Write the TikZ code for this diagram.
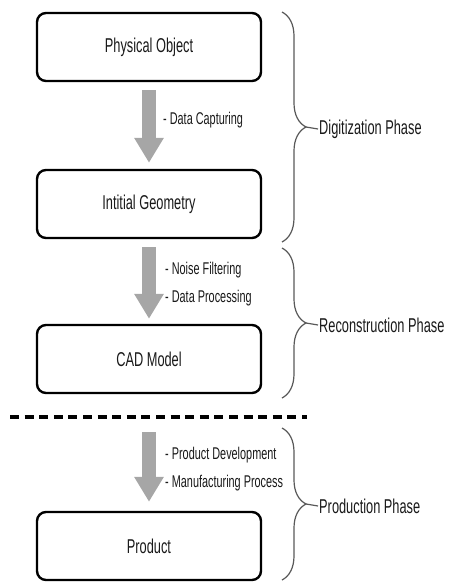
\documentclass[tikz,border=0pt]{standalone}
\usepackage{fontspec}
\setmainfont{Liberation Sans}[FakeStretch=0.64]
\usetikzlibrary{arrows.meta,decorations.pathreplacing}
\begin{document}
\begin{tikzpicture}[x=1pt,y=-1pt,
		phasebox/.style={draw,line width=2.4pt,rounded corners=9pt,minimum width=224pt,minimum height=68pt,font=\fontsize{20}{23}\selectfont,text=black!90},
		flow/.style={draw=black!35,line width=14pt,-{Triangle[width=28pt,length=25pt]}},
		steptext/.style={anchor=west,align=left,inner sep=0pt,font=\fontsize{17}{27.5}\selectfont,text=black!90},
		phasebrace/.style={draw=black!65,line width=1.2pt,decorate,decoration={brace,amplitude=24pt}},
		phaselabel/.style={anchor=west,inner sep=1pt,font=\fontsize{20}{23}\selectfont,text=black!90}]
	\useasboundingbox (0,0) rectangle (448,584);
	\node[phasebox] (phys) at (149,47) {Physical Object};
	\node[phasebox] (init) at (149,204) {Intitial Geometry};
	\node[phasebox] (cad) at (149,359) {CAD Model};
	\node[phasebox] (prod) at (149,546) {Product};
	\path (10,417) coordinate (cutL) (307,417) coordinate (cutR) (149,417) coordinate (cut);
	\draw[line width=4pt,dash pattern=on 9pt off 5.6pt] (cutL) -- (cutR);
	\draw[flow,shorten <=8pt,shorten >=6pt] (phys) -- (init);
	\draw[flow,shorten <=8pt,shorten >=5pt] (init) -- (cad);
	\draw[flow,shorten <=15pt,shorten >=9pt] (cut) -- (prod);
	\node[steptext] (capt) at (163,120) {- Data Capturing};
	\node[steptext] (proc) at (165,284) {- Noise Filtering\\- Data Processing};
	\node[steptext] (manu) at (165,469) {- Product Development\\- Manufacturing Process};
	\foreach \t/\b/\n/\txt in {12/242/dig/Digitization Phase,248/398/rec/Reconstruction Phase,428/580/pro/Production Phase}{
		\draw[phasebrace] (282,\t) -- (282,\b);
		\path ({282+24},{(\t+\b)/2}) coordinate (\n tip);
		\node[phaselabel] (\n) at (318,{(\t+\b)/2+2}) {\txt};
		\draw[black!65,line width=1.2pt] (\n tip) -- (\n.west);
	}
\end{tikzpicture}
\end{document}
